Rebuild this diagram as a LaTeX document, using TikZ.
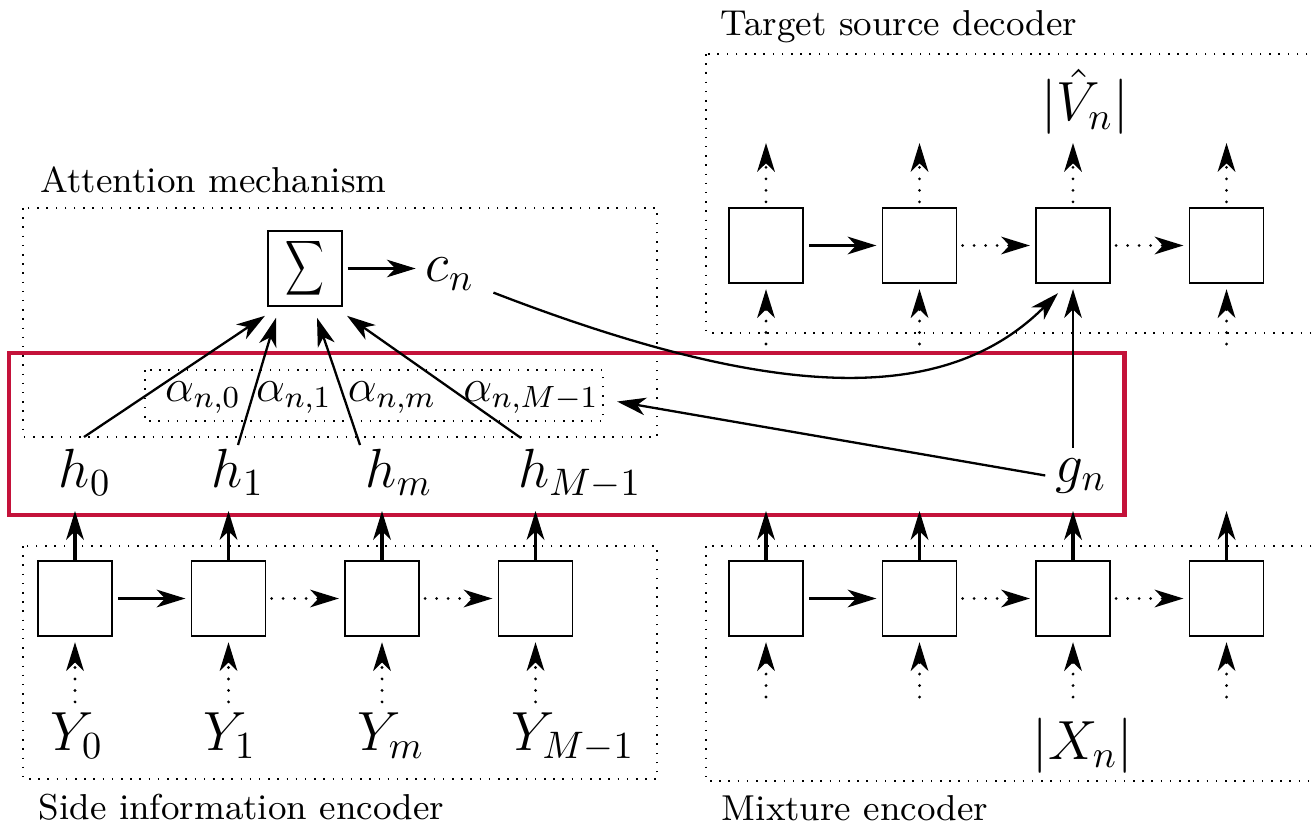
\documentclass[tikz,border=0pt]{standalone}
\usepackage{graphicx}
\usetikzlibrary{arrows.meta,calc}
\definecolor{redbox}{RGB}{196,18,58}
\begin{document}
\begin{tikzpicture}[x=0.261pt,y=-0.261pt,
  cell/.style={draw,line width=0.4pt,minimum width=19.3pt,minimum height=19.6pt,inner sep=0pt,outer sep=1.6pt},
  sumbox/.style={draw,line width=0.4pt,minimum width=19.3pt,minimum height=19.6pt,inner sep=0pt,outer sep=1.5pt},
  region/.style={draw,dotted,line width=0.4pt},
  redline/.style={draw=redbox,line width=1.3pt},
  tip/.style={-{Stealth[length=7.5pt,width=4.6pt,inset=2.2pt]}},
  arr/.style={tip,line width=0.9pt},
  thinarr/.style={tip,line width=0.6pt},
  dotarr/.style={tip,line width=0.8pt,line cap=round,dash pattern=on 0pt off 3pt},
  lab/.style={font=\fontsize{9.4}{11}\selectfont,anchor=base west,inner sep=0pt},
  mth/.style={font=\Large,inner sep=2.5pt,anchor=base},
  alab/.style={font=\large,inner sep=2.5pt,anchor=base},
]
\useasboundingbox (0,0) rectangle (1313,827);

% dotted regions
\draw[region] (23,208) rectangle (657,437);
\draw[region] (145,370) rectangle (603,421);
\draw[region] (23,546) rectangle (657,779);
\draw[region] (706,54) rectangle (1330,333);
\draw[region] (706,546) rectangle (1330,781);

% titles
\node[lab] (tatt) at (40,193) {Attention mechanism};
\node[lab] (tdec) at (720,36) {Target source decoder};
\node[lab] (tside) at (38,819) {Side information encoder};
\node[lab] (tmix) at (721,820) {Mixture encoder};

% red highlight
\draw[redline] (9,353) rectangle (1124,515);

% cells
\foreach \n/\x in {1/75,2/228.5,3/382,4/535.5} \node[cell] (s\n) at (\x,598.5) {};
\foreach \n/\x in {1/766,2/919.5,3/1073,4/1226.5} \node[cell] (m\n) at (\x,598.5) {};
\foreach \n/\x in {1/766,2/919.5,3/1073,4/1226.5} \node[cell] (d\n) at (\x,245.5) {};

% math labels
\node[mth] (Y0) at (77,750) {$Y_0$};
\node[mth] (Y1) at (230,750) {$Y_1$};
\node[mth] (Ym) at (391,750) {$Y_m$};
\node[mth] (YM) at (573,750) {$Y_{M-1}$};
\node[mth] (h0) at (85,487) {$h_0$};
\node[mth] (h1) at (238,487) {$h_1$};
\node[mth] (hm) at (399,487) {$h_m$};
\node[mth] (hM) at (580,487) {$h_{M-1}$};
\node[alab] (a0) at (203,401) {$\alpha_{n,0}$};
\node[alab] (a1) at (294,401) {$\alpha_{n,1}$};
\node[alab] (am) at (392,401) {$\alpha_{n,m}$};
\node[alab] (aM) at (531,401) {$\alpha_{n,M-1}$};
\node[mth] (gn) at (1081,482) {$g_n$};
\node[mth] (cn) at (450,282) {$c_n$};
\node[mth] (Xn) at (1083,759) {$|X_n|$};
\node[mth] (Vn) at (1085,121) {$|\hat{V}_n|$};
\node[sumbox] (sig) at (305,268.5) {\scalebox{0.7}[1]{$\displaystyle\sum$}};

% free ends
\foreach \n/\x in {1/75,2/228.5,3/382,4/535.5} \coordinate (us\n) at (\x,511);
\foreach \n/\x in {1/766,2/919.5,3/1073,4/1226.5} {
  \coordinate (um\n) at (\x,511);
  \coordinate (im\n) at (\x,697);
  \coordinate (od\n) at (\x,143);
  \coordinate (id\n) at (\x,344);
}

% recurrent connections
\foreach \r in {s,m,d} {
  \draw[arr] (\r1) -- (\r2);
  \draw[dotarr] (\r2) -- (\r3);
  \draw[dotarr] (\r3) -- (\r4);
}

% side information encoder
\foreach \n/\y in {1/Y0,2/Y1,3/Ym,4/YM} {
  \draw[dotarr] (\y.north -| s\n) -- (s\n.south);
  \draw[arr,shorten <=-1.6pt] (s\n.north) -- (us\n);
}

% mixture encoder
\foreach \n in {1,2,3,4} {
  \draw[dotarr] (im\n) -- (m\n.south);
  \draw[arr,shorten <=-1.6pt] (m\n.north) -- (um\n);
}

% decoder
\foreach \n in {1,2,4} \draw[dotarr] (id\n) -- (d\n.south);
\foreach \n in {1,2,3,4} \draw[dotarr] (d\n.north) -- (od\n);

% attention
\draw[thinarr] ([shift={(-1,-50)}]h0.base) -- ([shift={(-40,4)}]sig.south);
\draw[thinarr] ([shift={(0,-42)}]h1.base) -- ([shift={(-29,6)}]sig.south);
\draw[thinarr] ([shift={(-39,-42)}]hm.base) -- ([shift={(12,6)}]sig.south);
\draw[thinarr] ([shift={(-59,-49)}]hM.base) -- ([shift={(42,4)}]sig.south);
\draw[thinarr] (sig.east) -- (sig.east -| cn.west);
\draw[thinarr] (gn.west) -- ([shift={(8,4)}]aM.east);
\draw[thinarr] (gn.north -| d3) -- (d3.south);
\draw[thinarr] ([shift={(9,-8)}]cn.south east) .. controls +(290,112) and +(-110,110) .. ([shift={(-15,4)}]d3.south);
\end{tikzpicture}
\end{document}
